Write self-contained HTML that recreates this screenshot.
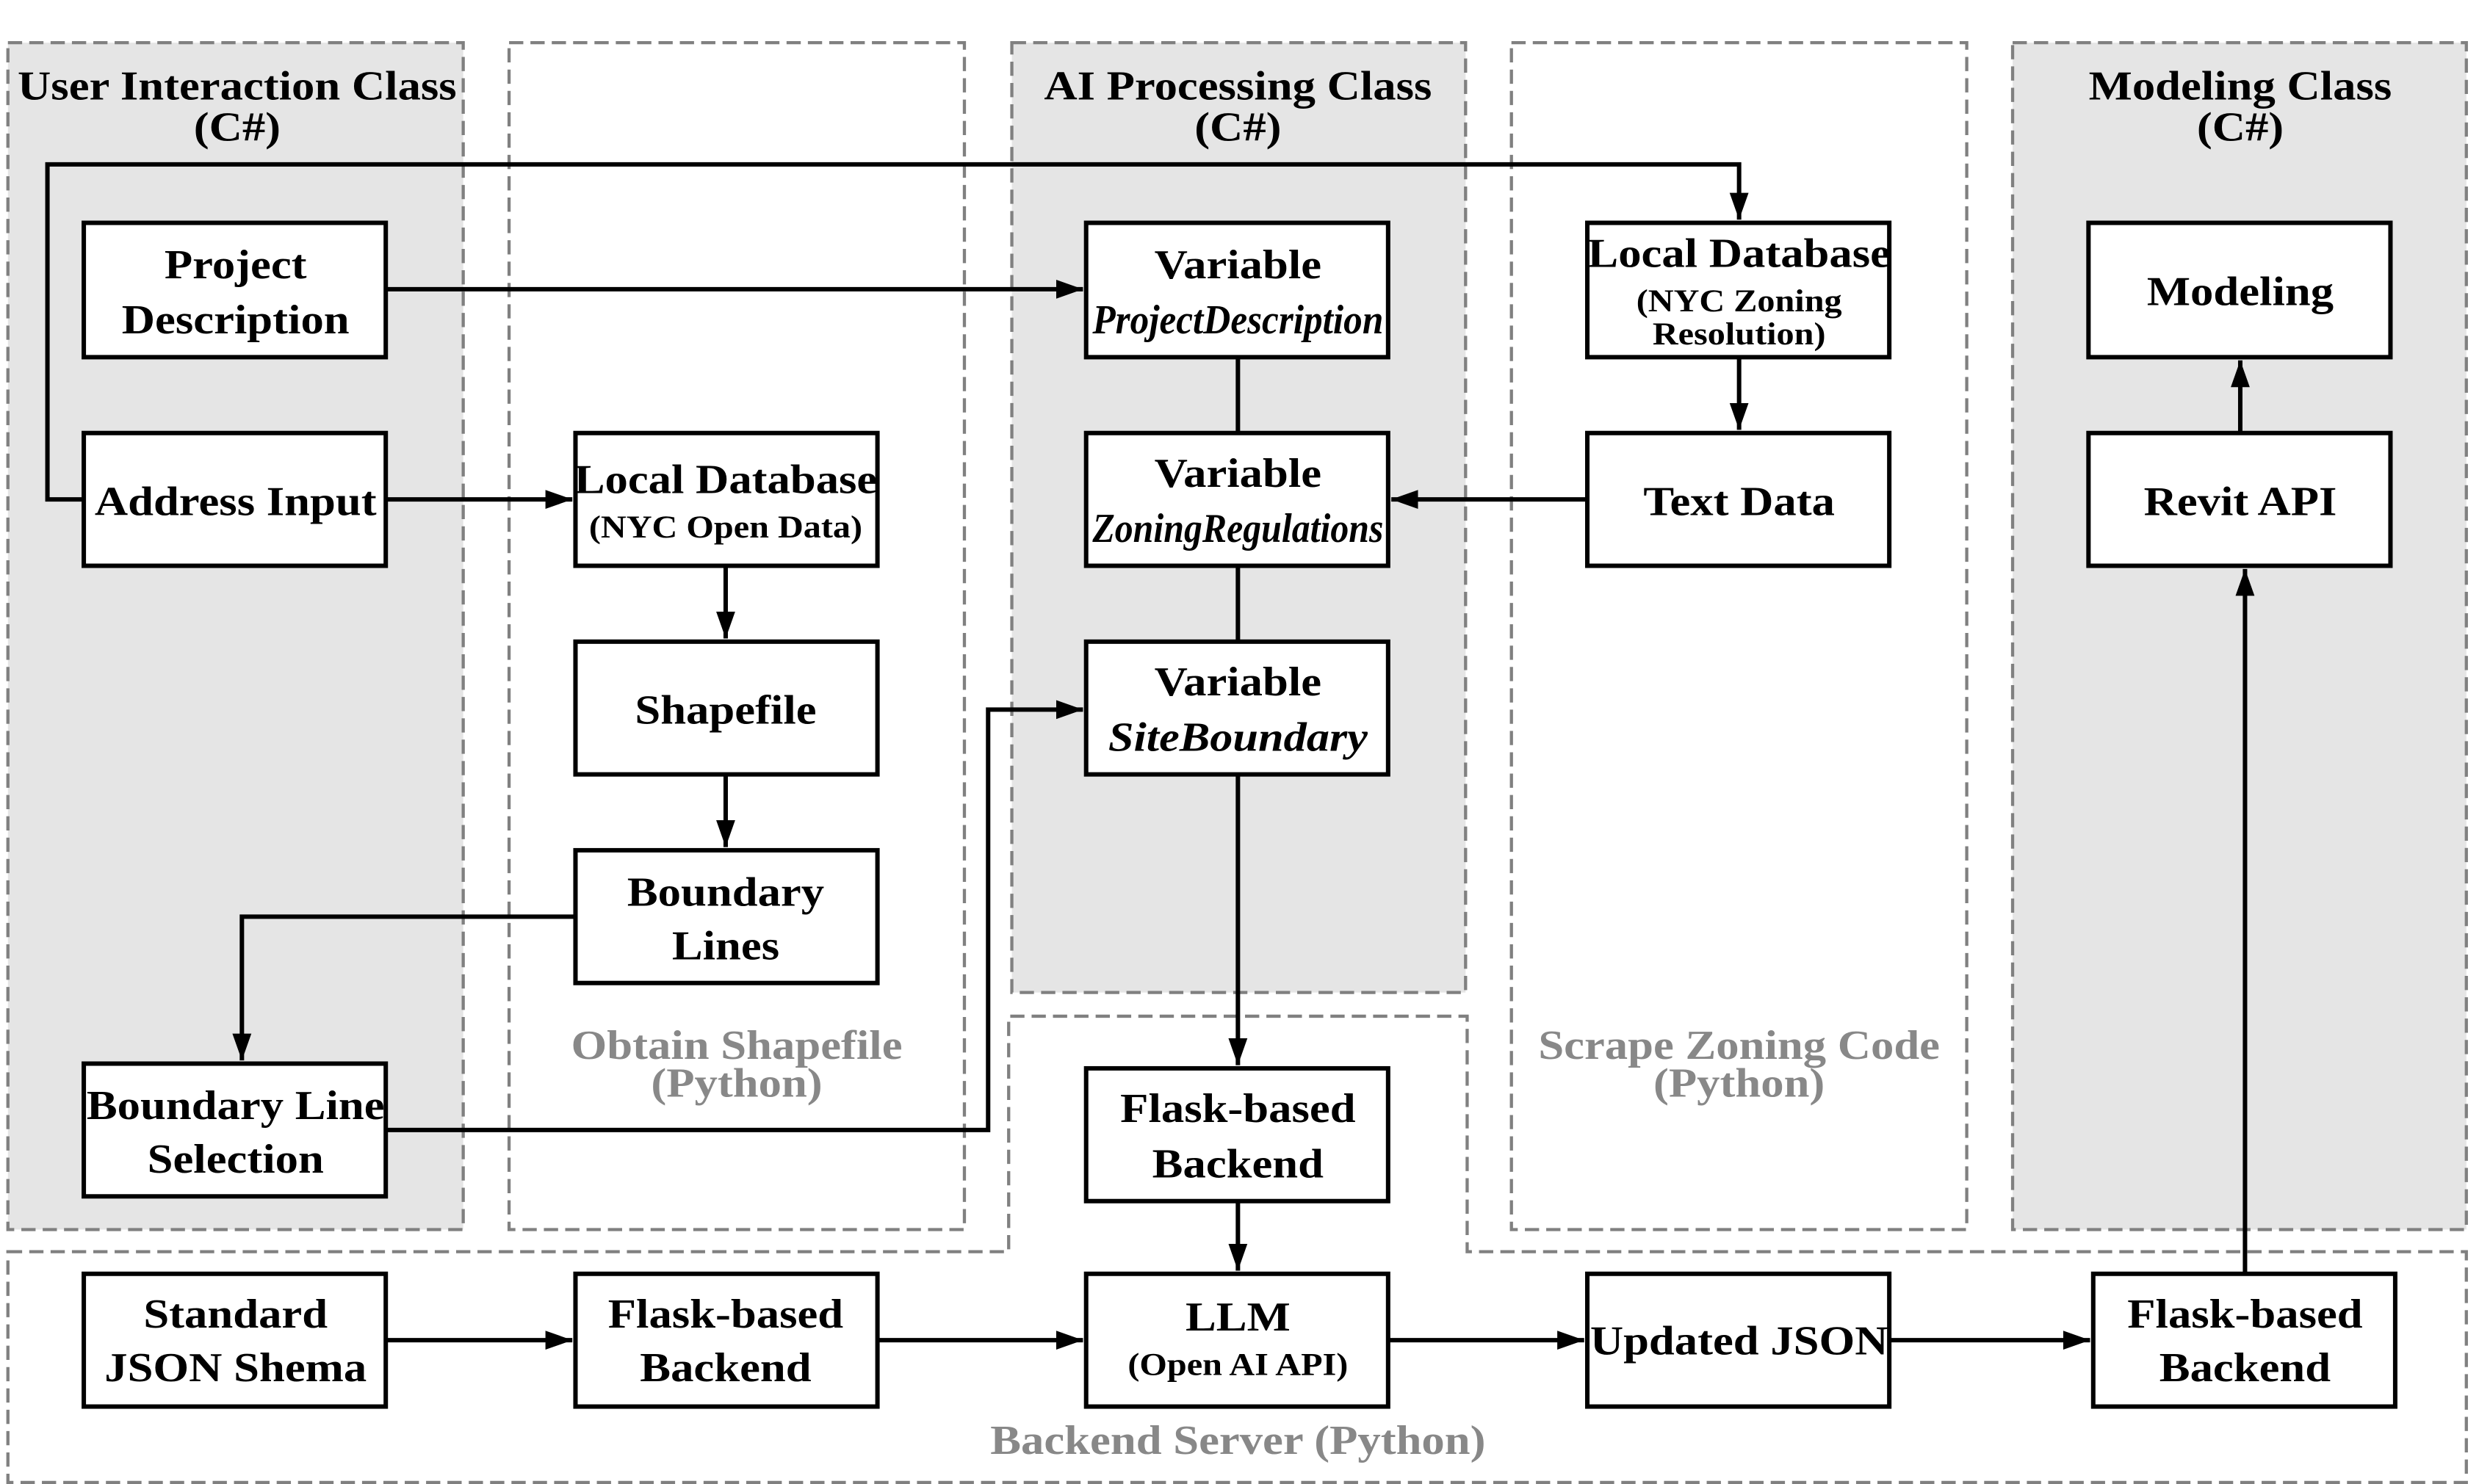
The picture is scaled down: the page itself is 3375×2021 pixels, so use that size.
<!DOCTYPE html>
<html><head><meta charset="utf-8"><style>
html,body{margin:0;padding:0;background:#fff}
svg{display:block}
text{font-family:"Liberation Serif",serif;font-weight:bold;text-anchor:middle}
</style></head><body>
<svg width="3375" height="2021" viewBox="0 0 1568 939" preserveAspectRatio="none" xmlns="http://www.w3.org/2000/svg">
<defs>
<marker id="b" markerWidth="18" markerHeight="14" refX="17" refY="7" orient="auto" markerUnits="userSpaceOnUse"><path d="M0,1 L17,7 L0,13 z" fill="#000"/></marker></defs>
<g stroke="#808080" stroke-width="2" stroke-dasharray="9,4.5">
<rect x="5" y="27" width="288" height="751" fill="#e5e5e5"/>
<rect x="322" y="27" width="288" height="751" fill="none"/>
<rect x="640" y="27" width="287" height="601" fill="#e5e5e5"/>
<rect x="956" y="27" width="288" height="751" fill="none"/>
<rect x="1273" y="27" width="287" height="751" fill="#e5e5e5"/>
<path d="M5,792 L638,792 L638,643 L928,643 L928,792 L1560,792 L1560,938 L5,938 Z" fill="none"/>
</g>
<g font-size="26">
<text transform="translate(150 63) scale(1.12 1)">User Interaction Class</text><text transform="translate(150 89) scale(1.12 1)">(C#)</text>
<text transform="translate(783 63) scale(1.12 1)">AI Processing Class</text><text transform="translate(783 89) scale(1.12 1)">(C#)</text>
<text transform="translate(1417 63) scale(1.12 1)">Modeling Class</text><text transform="translate(1417 89) scale(1.12 1)">(C#)</text>
</g>
<g font-size="26" fill="#888">
<text transform="translate(466 670) scale(1.12 1)">Obtain Shapefile</text><text transform="translate(466 694) scale(1.12 1)">(Python)</text>
<text transform="translate(1100 670) scale(1.12 1)">Scrape Zoning Code</text><text transform="translate(1100 694) scale(1.12 1)">(Python)</text>
<text transform="translate(783 920) scale(1.12 1)">Backend Server (Python)</text>
</g>
<g fill="none" stroke="#000" stroke-width="2.8">
<path d="M53,316 H30 V104 H1100 V139" marker-end="url(#b)"/>
<path d="M244,183 H685" marker-end="url(#b)"/>
<path d="M244,316 H362" marker-end="url(#b)"/>
<path d="M459,358 V404" marker-end="url(#b)"/>
<path d="M459,490 V536" marker-end="url(#b)"/>
<path d="M364,580 H153 V671" marker-end="url(#b)"/>
<path d="M244,715 H625 V449 H685" marker-end="url(#b)"/>
<path d="M783,226 V274 M783,358 V406"/>
<path d="M1004,316 H880" marker-end="url(#b)"/>
<path d="M1100,226 V272" marker-end="url(#b)"/>
<path d="M1417,274 V228" marker-end="url(#b)"/>
<path d="M783,490 V674" marker-end="url(#b)"/>
<path d="M783,760 V804" marker-end="url(#b)"/>
<path d="M244,848 H362" marker-end="url(#b)"/>
<path d="M555,848 H685" marker-end="url(#b)"/>
<path d="M878,848 H1002" marker-end="url(#b)"/>
<path d="M1195,848 H1322" marker-end="url(#b)"/>
<path d="M1420,806 V360" marker-end="url(#b)"/>
</g>
<g fill="#fff" stroke="#000" stroke-width="2.8">
<rect x="53" y="141" width="191" height="85"/>
<rect x="53" y="274" width="191" height="84"/>
<rect x="53" y="673" width="191" height="84"/>
<rect x="364" y="274" width="191" height="84"/>
<rect x="364" y="406" width="191" height="84"/>
<rect x="364" y="538" width="191" height="84"/>
<rect x="687" y="141" width="191" height="85"/>
<rect x="687" y="274" width="191" height="84"/>
<rect x="687" y="406" width="191" height="84"/>
<rect x="1004" y="141" width="191" height="85"/>
<rect x="1004" y="274" width="191" height="84"/>
<rect x="1321" y="141" width="191" height="85"/>
<rect x="1321" y="274" width="191" height="84"/>
<rect x="687" y="676" width="191" height="84"/>
<rect x="53" y="806" width="191" height="84"/>
<rect x="364" y="806" width="191" height="84"/>
<rect x="687" y="806" width="191" height="84"/>
<rect x="1004" y="806" width="191" height="84"/>
<rect x="1324" y="806" width="191" height="84"/>
</g>
<g font-size="26">
<text transform="translate(149 176) scale(1.12 1)">Project</text><text transform="translate(149 211) scale(1.12 1)">Description</text>
<text transform="translate(149 326) scale(1.12 1)">Address Input</text>
<text transform="translate(149 708) scale(1.12 1)">Boundary Line</text><text transform="translate(149 742) scale(1.12 1)">Selection</text>
<text transform="translate(459 312) scale(1.12 1)">Local Database</text>
<text transform="translate(459 458) scale(1.12 1)">Shapefile</text>
<text transform="translate(459 573) scale(1.12 1)">Boundary</text><text transform="translate(459 607) scale(1.12 1)">Lines</text>
<text transform="translate(783 176) scale(1.12 1)">Variable</text><text x="783" y="211" font-style="italic" textLength="184" lengthAdjust="spacingAndGlyphs">ProjectDescription</text>
<text transform="translate(783 308) scale(1.12 1)">Variable</text><text x="783" y="343" font-style="italic" textLength="184" lengthAdjust="spacingAndGlyphs">ZoningRegulations</text>
<text transform="translate(783 440) scale(1.12 1)">Variable</text><text x="783" y="475" font-style="italic" textLength="164" lengthAdjust="spacingAndGlyphs">SiteBoundary</text>
<text transform="translate(1100 169) scale(1.12 1)">Local Database</text>
<text transform="translate(1100 326) scale(1.12 1)">Text Data</text>
<text transform="translate(1417 193) scale(1.12 1)">Modeling</text>
<text transform="translate(1417 326) scale(1.12 1)">Revit API</text>
<text transform="translate(783 710) scale(1.12 1)">Flask-based</text><text transform="translate(783 745) scale(1.12 1)">Backend</text>
<text transform="translate(149 840) scale(1.12 1)">Standard</text><text transform="translate(149 874) scale(1.12 1)">JSON Shema</text>
<text transform="translate(459 840) scale(1.12 1)">Flask-based</text><text transform="translate(459 874) scale(1.12 1)">Backend</text>
<text transform="translate(783 842) scale(1.12 1)">LLM</text>
<text transform="translate(1100 857) scale(1.12 1)">Updated JSON</text>
<text transform="translate(1420 840) scale(1.12 1)">Flask-based</text><text transform="translate(1420 874) scale(1.12 1)">Backend</text>
</g>
<g font-size="20">
<text transform="translate(459 340) scale(1.12 1)">(NYC Open Data)</text>
<text transform="translate(1100 197) scale(1.12 1)">(NYC Zoning</text><text transform="translate(1100 218) scale(1.12 1)">Resolution)</text>
<text transform="translate(783 870) scale(1.12 1)">(Open AI API)</text>
</g>
</svg>
</body></html>
